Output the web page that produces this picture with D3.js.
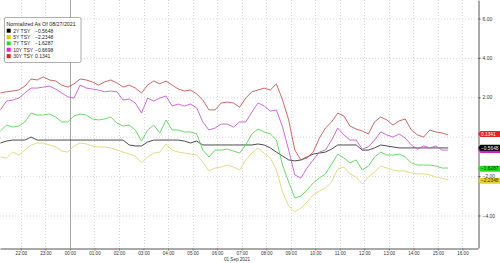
<!DOCTYPE html>
<html>
<head>
<meta charset="utf-8">
<script src="https://cdn.jsdelivr.net/npm/d3@7"></script>
<style>
  body { margin: 0; background: #fff; }
  svg { display: block; font-family: "Liberation Sans", Arial, sans-serif; }
</style>
</head>
<body>
<svg id="chart" width="500" height="263"></svg>
<script>
// readings every 15 minutes starting 31 Aug 21:10
var startTime = new Date(2021, 7, 31, 21, 10);
var stepMinutes = 15;
var domainStart = new Date(2021, 7, 31, 21, 9);
var domainEnd = new Date(2021, 8, 1, 16, 38);

var seriesNames = ["2Y TSY", "5Y TSY", "7Y TSY", "10Y TSY", "30Y TSY"];
var lastValues = [-0.5648, -2.2348, -1.6287, -0.6698, 0.1341];
var legendTitle = "Normalized As Of 08/27/2021";
var dateLabel = "01 Sep 2021";
var yGridValues = [-4, -2, 0, 2, 4, 6];
var yLabelValues = [-4, -2, 2, 4, 6]; // 0.00 sits under the 30Y box

var tsy2y = [
  -0.32, -0.22, -0.17, -0.17, -0.17, -0.02, -0.17, -0.17, -0.17, -0.17,
  -0.17, -0.17, -0.17, -0.17, -0.17, -0.17, -0.17, -0.17, -0.17, -0.17,
  -0.17, -0.42, -0.47, -0.47, -0.27, -0.17, -0.17, -0.17, -0.17, -0.17,
  -0.22, -0.32, -0.22, -0.42, -0.42, -0.42, -0.42, -0.42, -0.42, -0.42,
  -0.42, -0.42, -0.37, -0.42, -0.57, -0.78, -0.98, -1.18, -1.23, -1.18,
  -1.03, -0.88, -0.83, -0.78, -0.63, -0.42, -0.42, -0.42, -0.42, -0.68,
  -0.68, -0.57, -0.42, -0.47, -0.52, -0.57, -0.57, -0.57, -0.57, -0.57,
  -0.57, -0.57, -0.57, -0.57
];
var tsy5y = [
  -1.03, -1.08, -0.78, -0.93, -0.68, -0.42, -0.32, -0.32, -0.42, -0.52,
  -0.73, -0.78, -0.47, -0.32, -0.37, -0.47, -0.52, -0.52, -0.57, -0.68,
  -0.78, -0.88, -0.98, -1.33, -1.03, -0.83, -0.78, -0.37, -0.68, -0.78,
  -0.83, -0.88, -0.93, -1.28, -1.74, -1.59, -1.54, -1.44, -1.54, -1.69,
  -1.18, -0.83, -0.57, -0.83, -1.08, -1.69, -2.81, -3.52, -3.82, -3.62,
  -3.31, -2.96, -2.76, -2.60, -2.30, -1.64, -1.54, -1.89, -2.05, -2.40,
  -2.05, -1.79, -1.49, -1.59, -1.69, -1.74, -1.74, -1.84, -1.89, -1.89,
  -1.94, -2.05, -2.10, -2.20
];
var tsy7y = [
  0.29, 0.59, 0.49, 0.54, 0.75, 1.20, 1.10, 1.10, 1.15, 1.00,
  0.75, 0.75, 1.05, 1.15, 1.10, 0.90, 0.85, 0.90, 1.00, 0.69,
  0.54, 0.59, 0.34, -0.22, 0.34, 0.59, 0.19, 0.85, 0.34, 0.34,
  0.24, 0.24, 0.14, -0.68, -1.03, -0.68, -0.68, -0.63, -0.73, -0.83,
  -0.42, 0.14, 0.39, 0.24, 0.14, -0.17, -1.44, -2.30, -3.11, -3.01,
  -2.71, -2.35, -2.10, -1.89, -1.39, -0.88, -1.08, -1.33, -1.18, -1.69,
  -1.49, -1.03, -0.78, -0.93, -0.93, -0.88, -1.03, -1.33, -1.44, -1.44,
  -1.44, -1.49, -1.59, -1.59
];
var tsy10y = [
  1.36, 1.81, 1.86, 1.96, 2.22, 2.47, 2.47, 2.52, 2.57, 2.42,
  2.22, 2.02, 1.96, 2.62, 2.47, 2.42, 2.37, 2.28, 2.32, 2.28,
  1.86, 1.91, 1.71, 1.20, 1.96, 1.81, 1.96, 2.07, 1.56, 1.66,
  1.56, 1.66, 1.46, 0.75, 0.34, 0.44, 0.64, 0.64, 0.49, 0.75,
  0.75, 1.25, 1.71, 1.56, 1.30, 1.36, 0.49, -0.68, -1.94, -2.10,
  -1.59, -1.18, -0.78, -0.68, -0.17, 0.44, 0.09, -0.17, -0.17, -0.63,
  -0.52, -0.17, 0.24, 0.09, -0.02, 0.14, -0.07, -0.42, -0.63, -0.47,
  -0.57, -0.47, -0.68, -0.68
];
var tsy30y = [
  2.22, 2.28, 2.32, 2.37, 2.57, 2.93, 2.88, 3.03, 2.88, 2.83,
  2.62, 2.52, 2.68, 2.93, 2.88, 2.78, 2.62, 2.78, 2.88, 2.73,
  2.52, 2.62, 2.47, 2.22, 2.62, 2.83, 2.68, 2.83, 2.62, 2.42,
  2.32, 2.37, 2.17, 1.86, 1.36, 1.36, 1.71, 1.76, 1.71, 1.50,
  1.96, 2.28, 2.37, 2.47, 2.37, 2.68, 1.86, 0.85, -0.68, -1.18,
  -1.08, -0.78, -0.07, 0.44, 0.75, 1.20, 1.05, 0.54, 0.39, 0.29,
  0.14, 0.75, 1.00, 0.85, 0.59, 0.80, 0.90, 0.34, 0.09, -0.02,
  0.34, 0.24, 0.19, 0.09
];

var allSeries = [tsy2y, tsy5y, tsy7y, tsy10y, tsy30y];
var lineColors = ["#383838", "#e0d67e", "#5ad45a", "#c45ccf", "#c05858"];
var boxColors = ["#000000", "#e8cf2c", "#22dd22", "#c822c8", "#e42222"];
var boxText = ["#ffffff", "#333300", "#003300", "#ffffff", "#ffffff"];
var swatchColors = ["#000000", "#e8c800", "#22e022", "#e022e0", "#e02222"];

var svg = d3.select("#chart");
var plotRight = 478, plotBottom = 248;

var x = d3.scaleTime().domain([domainStart, domainEnd]).range([0, plotRight]);
var y = d3.scaleLinear().domain([-5.65, 6.94]).range([plotBottom, 0]);

var hours = d3.timeHour.range(d3.timeHour.ceil(domainStart), domainEnd);

// grid
var grid = svg.append("g").attr("stroke", "#cfcfcf").attr("stroke-width", 0.8).attr("stroke-dasharray", "1,2");
grid.selectAll("line.h").data(yGridValues).enter().append("line")
  .attr("x1", 0).attr("x2", plotRight)
  .attr("y1", function(d) { return y(d) + 0.5 }).attr("y2", function(d) { return y(d) + 0.5 });
grid.selectAll("line.v").data(hours.filter(function(d) { return d.getHours() !== 0 })).enter().append("line")
  .attr("y1", 0).attr("y2", plotBottom)
  .attr("x1", function(d) { return Math.round(x(d)) + 0.5 }).attr("x2", function(d) { return Math.round(x(d)) + 0.5 });

// day boundary
var midnight = hours.filter(function(d) { return d.getHours() === 0 })[0];
svg.append("line")
  .attr("x1", Math.round(x(midnight)) + 0.5).attr("x2", Math.round(x(midnight)) + 0.5)
  .attr("y1", 0).attr("y2", plotBottom)
  .attr("stroke", "#a8a8a8").attr("stroke-width", 1);

// lines
var line = d3.line()
  .x(function(d, i) { return x(d3.timeMinute.offset(startTime, i * stepMinutes)) })
  .y(function(d) { return y(d) });

svg.append("g").selectAll("path").data(allSeries).enter().append("path")
  .attr("fill", "none")
  .attr("stroke", function(d, i) { return lineColors[i] })
  .attr("stroke-width", 0.9)
  .attr("d", line);

// x axis
var xAxis = svg.append("g")
  .attr("transform", "translate(0," + (plotBottom + 0.5) + ")")
  .call(d3.axisBottom(x).ticks(d3.timeHour.every(1)).tickFormat(d3.timeFormat("%H:%M")).tickSize(2).tickPadding(1.5).tickSizeOuter(0));
xAxis.select(".domain").attr("stroke", "#555");
xAxis.selectAll(".tick line").attr("stroke", "#777");
xAxis.selectAll("text")
  .attr("font-family", "'Liberation Sans Narrow', 'Arial Narrow', 'Liberation Sans', sans-serif")
  .attr("font-size", 4.6).attr("fill", "#333");

svg.append("text")
  .attr("x", 237).attr("y", 261)
  .attr("text-anchor", "middle")
  .attr("font-family", "'Liberation Sans Narrow', 'Arial Narrow', 'Liberation Sans', sans-serif")
  .attr("font-size", 4.6).attr("fill", "#333")
  .text(dateLabel);

// y axis
var yAxis = svg.append("g")
  .attr("transform", "translate(" + (plotRight + 0.5) + ",0)")
  .call(d3.axisRight(y).tickValues(yLabelValues).tickFormat(d3.format(".2f")).tickSize(2).tickPadding(2).tickSizeOuter(0));
yAxis.select(".domain").attr("stroke", "#555");
yAxis.selectAll(".tick line").attr("stroke", "#555");
yAxis.selectAll("text").attr("font-size", 5).attr("fill", "#333");

// last value labels (10Y box sits under the 2Y box, its text hidden as in the source)
var labelOrder = [1, 2, 3, 0, 4];
var labels = svg.append("g").selectAll("g").data(labelOrder).enter().append("g")
  .attr("transform", function(k) { return "translate(0," + y(lastValues[k]) + ")" });
labels.append("path")
  .attr("d", "M478,0 L480.5,-3 H500 V3 H480.5 Z")
  .attr("fill", function(k) { return boxColors[k] });
labels.filter(function(k) { return k !== 3 }).append("text")
  .attr("x", 481).attr("y", 1.7)
  .attr("font-size", 4.8)
  .attr("fill", function(k) { return boxText[k] })
  .text(function(k) { return d3.format(".4f")(lastValues[k]) });

// legend
var legend = svg.append("g").attr("transform", "translate(4.5,17.5)");
legend.append("rect")
  .attr("width", 76.5).attr("height", 45).attr("rx", 1.5)
  .attr("fill", "#fff").attr("stroke", "#9a9a9a").attr("stroke-width", 0.8);
legend.append("text")
  .attr("x", 2).attr("y", 8.6)
  .attr("font-size", 5.3).attr("fill", "#222")
  .text(legendTitle);
var rows = legend.selectAll("g.row").data(seriesNames).enter().append("g")
  .attr("class", "row")
  .attr("transform", function(d, i) { return "translate(0," + (13.2 + i * 6.35) + ")" });
rows.append("rect")
  .attr("x", 2.2).attr("y", -2).attr("width", 4).attr("height", 4)
  .attr("fill", function(d, i) { return swatchColors[i] });
rows.append("text")
  .attr("x", 8.8).attr("y", 1.8)
  .attr("font-size", 5).attr("fill", "#222")
  .text(function(d) { return d });
rows.append("text")
  .attr("x", 30.5).attr("y", 1.8)
  .attr("font-size", 5).attr("fill", "#222")
  .text(function(d, i) { return d3.format(".4f")(lastValues[i]) });
</script>
</body>
</html>
